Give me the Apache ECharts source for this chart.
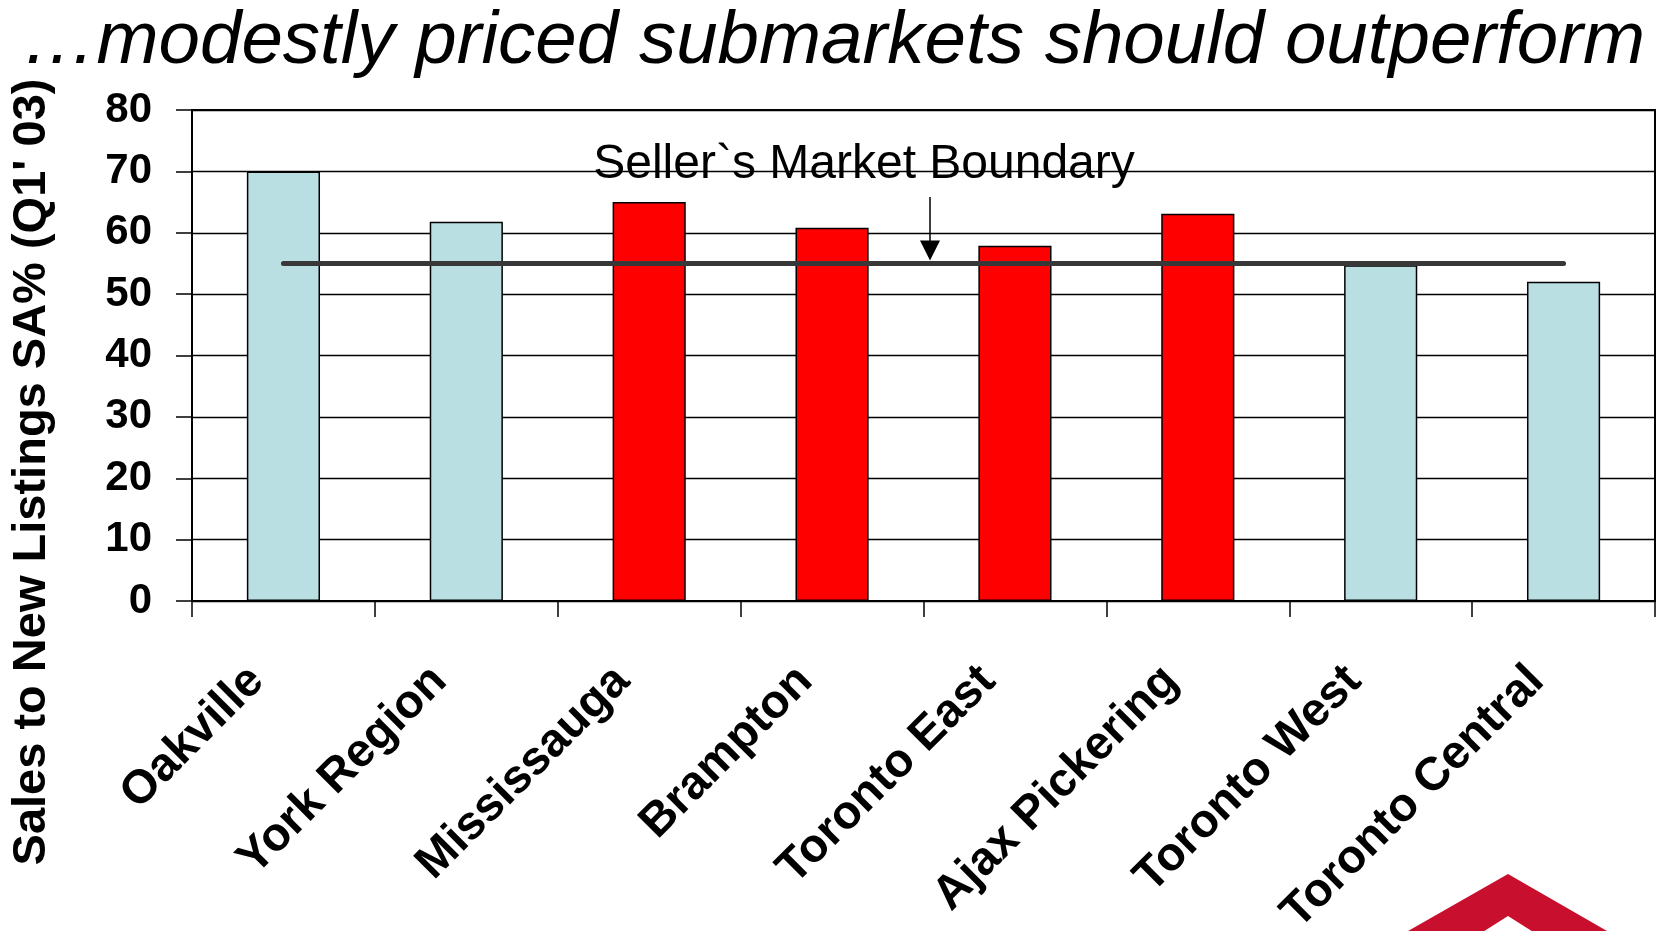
<!DOCTYPE html>
<html>
<head>
<meta charset="utf-8">
<title>Sales to New Listings by Submarket</title>
<script src="https://cdn.jsdelivr.net/npm/echarts@6/dist/echarts.min.js"></script>
<style>
  html, body { margin: 0; padding: 0; background: #ffffff; }
  #chart { width: 1665px; height: 931px; }
</style>
</head>
<body>
<div id="chart"></div>
<script>
// Submarkets along the x axis
const categories = ['Oakville', 'York Region', 'Mississauga', 'Brampton',
  'Toronto East', 'Ajax Pickering', 'Toronto West', 'Toronto Central'];
// Sales to new listings ratio, seasonally adjusted, Q1 2003 (%)
const salesToListings = [70, 61.8, 65, 60.8, 57.9, 63.1, 54.7, 52];
// Modestly priced submarkets are drawn in red
const modestlyPriced = [false, false, true, true, true, true, false, false];
// Seller's market threshold (%)
const sellersBoundary = 55;
// Value axis range
const yMin = 0, yMax = 80, yStep = 10;

const FONT = '"Liberation Sans", Arial, Helvetica, sans-serif';
const BLUE = '#B9DFE3';
const RED = '#FF0000';

const chart = echarts.init(document.getElementById('chart'), null, { renderer: 'canvas' });

const option = {
  animation: false,
  backgroundColor: '#ffffff',
  title: {
    text: '…modestly priced submarkets should outperform',
    left: 22,
    top: 5,
    padding: 0,
    textStyle: {
      fontFamily: FONT,
      fontSize: 74.5,
      fontStyle: 'italic',
      fontWeight: 'normal',
      color: '#000'
    }
  },
  grid: {
    left: 192,
    right: 10,
    top: 110,
    bottom: 330,
    outerBoundsMode: 'none',
    containLabel: false,
    show: true,
    borderColor: '#000',
    borderWidth: 2,
    backgroundColor: 'transparent'
  },
  xAxis: {
    type: 'category',
    data: categories,
    boundaryGap: true,
    axisLine: { show: true, lineStyle: { color: '#000', width: 2 } },
    axisTick: { show: true, length: 16, alignWithLabel: false, lineStyle: { color: '#000', width: 1.5 } },
    axisLabel: {
      interval: 0,
      rotate: 45,
      margin: 46,
      padding: [0, 38, 0, 0],
      fontFamily: FONT,
      fontSize: 47,
      fontWeight: 'bold',
      color: '#000'
    },
    splitLine: { show: false }
  },
  yAxis: {
    type: 'value',
    min: yMin,
    max: yMax,
    interval: yStep,
    axisLine: { show: true, lineStyle: { color: '#000', width: 2 } },
    axisTick: { show: true, length: 16, lineStyle: { color: '#000', width: 1.5 } },
    axisLabel: {
      margin: 40,
      fontFamily: FONT,
      fontSize: 42,
      fontWeight: 'bold',
      color: '#000'
    },
    splitLine: { show: true, lineStyle: { color: '#000', width: 1.3 } }
  },
  series: [
    {
      name: 'Sales to New Listings',
      type: 'bar',
      barWidth: '40%',
      z: 2,
      data: salesToListings.map((v, i) => ({
        value: v,
        itemStyle: {
          color: modestlyPriced[i] ? RED : BLUE,
          borderColor: '#000',
          borderWidth: 1.5
        }
      }))
    },
    {
      name: "Seller's Market Boundary",
      type: 'line',
      z: 3,
      symbol: 'none',
      data: categories.map(() => sellersBoundary),
      lineStyle: { color: '#383838', width: 5, cap: 'round' }
    }
  ]
};

chart.setOption(option);

// Annotation, arrow pointing at the boundary line, rotated axis title and corner logo
const lineY = chart.convertToPixel({ yAxisIndex: 0 }, sellersBoundary);
const arrowX = 930;
const tipY = lineY - 3;

chart.setOption({
  graphic: [
    {
      type: 'text',
      x: 864,
      y: 165,
      z: 10,
      style: {
        text: 'Seller`s Market Boundary',
        font: '48px ' + FONT,
        fill: '#000',
        textAlign: 'center',
        textVerticalAlign: 'middle',
        align: 'center',
        verticalAlign: 'middle'
      }
    },
    {
      type: 'line',
      z: 10,
      shape: { x1: arrowX, y1: 197, x2: arrowX, y2: tipY - 18 },
      style: { stroke: '#000', lineWidth: 1.5 }
    },
    {
      type: 'polygon',
      z: 10,
      shape: { points: [[arrowX - 10, tipY - 20], [arrowX + 10, tipY - 20], [arrowX, tipY]] },
      style: { fill: '#000' }
    },
    {
      type: 'text',
      x: 32,
      y: 472,
      rotation: Math.PI / 2,
      z: 10,
      style: {
        text: "Sales to New Listings SA% (Q1' 03)",
        font: 'bold 47px ' + FONT,
        fill: '#000',
        textAlign: 'center',
        textVerticalAlign: 'middle',
        align: 'center',
        verticalAlign: 'middle'
      }
    },
    {
      type: 'polygon',
      z: 10,
      shape: {
        points: [[1401, 935], [1508, 874], [1614, 935], [1538, 935],
                 [1508, 916], [1478, 935]]
      },
      style: { fill: '#C8102E' }
    }
  ]
});
</script>
</body>
</html>
